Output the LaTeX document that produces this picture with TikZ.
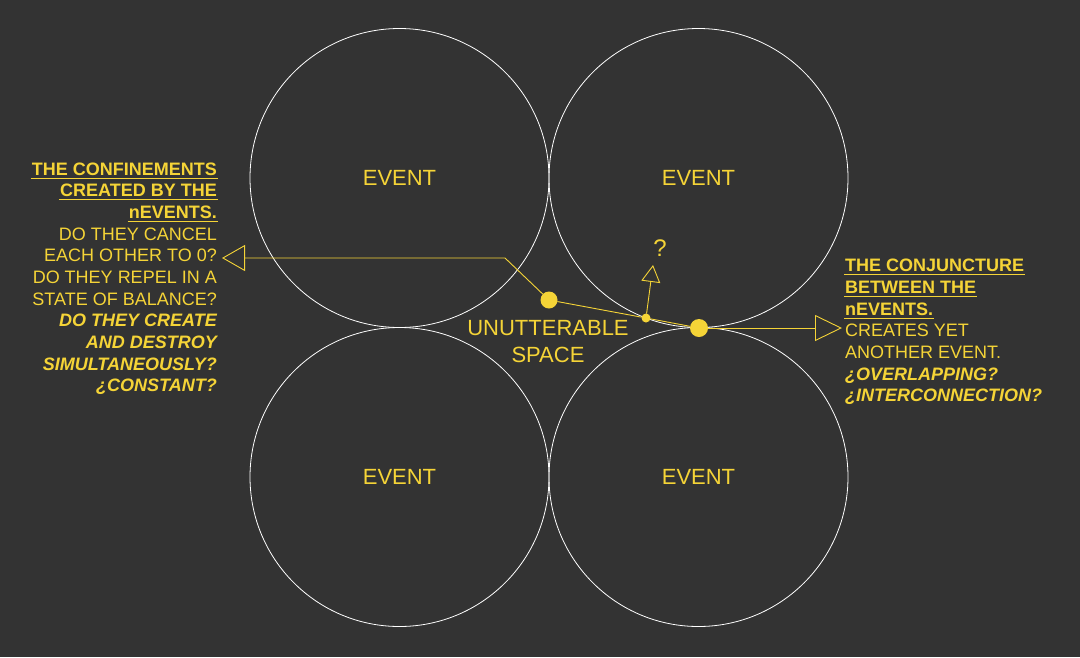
\documentclass[tikz,border=0pt]{standalone}
\usepackage{fontspec}
\setmainfont{Liberation Sans}
\usetikzlibrary{arrows.meta}
\definecolor{bg}{RGB}{51,51,51}
\definecolor{ylw}{RGB}{245,212,55}
\begin{document}
\begin{tikzpicture}[x=1pt,y=-1pt,
  ev/.style={circle,draw=white,line width=0.8pt,minimum size=299pt,inner sep=0pt,outer sep=0pt,
    text=ylw,font=\fontsize{22}{26}\selectfont},
  lbl/.style={text=ylw,font=\fontsize{22}{26}\selectfont,inner sep=0pt},
  dot/.style={circle,fill=ylw,inner sep=0pt,outer sep=0pt},
  lead/.style={draw=ylw,line width=0.9pt},
  ltxt/.style={text=ylw,font=\fontsize{18}{21}\selectfont,anchor=base east,inner sep=0pt},
  rtxt/.style={text=ylw,font=\fontsize{18}{21}\selectfont,anchor=base west,inner sep=0pt},
  hd/.style={font=\fontsize{18}{21}\selectfont\bfseries},
  qq/.style={font=\fontsize{18}{21}\selectfont\bfseries\itshape},
  ul/.style={draw=ylw,line width=0.9pt}]
\useasboundingbox (0,0) rectangle (1080,657);
\fill[bg] (0,0) rectangle (1080,657);

% circles
\node[ev] (e1) at (399.5,178) {EVENT};
\node[ev] (e2) at (698.5,178) {EVENT};
\node[ev] (e3) at (399.5,477) {EVENT};
\node[ev] (e4) at (698.5,477) {EVENT};

% centre label
\node[lbl] (u1) at (548,328) {UNUTTERABLE};
\node[lbl] (u2) at (548,355) {SPACE};

% dots
\node[dot,minimum size=17pt] (d1) at (549,300) {};
\node[dot,minimum size=9pt] (d2) at (646,318) {};
\node[dot,minimum size=18pt] (d3) at (699,328) {};

% leaders
\coordinate (bendL) at (505,258);
\coordinate (tipL) at (222,258);
\coordinate (tipQ) at (653,265);
\coordinate (tipR) at (842,328);
\draw[lead] (d1) -- (d2) -- (d3);
\draw[lead,-{Triangle[open,length=23pt,width=26pt]}] (d1) -- (bendL) -- (tipL);
\draw[lead,-{Triangle[open,length=17pt,width=19pt]}] (d2) -- (tipQ);
\draw[lead,-{Triangle[open,length=27pt,width=26pt]}] (d3) -- (tipR);
\node[lbl,font=\fontsize{24}{28}\selectfont] (qm) at (660,248) {?};

% left text
\node[ltxt,hd] (l1) at (217,175) {THE CONFINEMENTS};
\node[ltxt,hd] (l2) at (217,196.7) {CREATED BY THE};
\node[ltxt,hd] (l3) at (217,218.3) {nEVENTS.};
\node[ltxt] (l4) at (217,240) {DO THEY CANCEL};
\node[ltxt] (l5) at (217,261.7) {EACH OTHER TO 0?};
\node[ltxt] (l6) at (217,283.3) {DO THEY REPEL IN A};
\node[ltxt] (l7) at (217,305) {STATE OF BALANCE?};
\node[ltxt,qq] (l8) at (217,326.7) {DO THEY CREATE};
\node[ltxt,qq] (l9) at (217,348.3) {AND DESTROY};
\node[ltxt,qq] (l10) at (217,370) {SIMULTANEOUSLY?};
\node[ltxt,qq] (l11) at (217,391.7) {¿CONSTANT?};
\foreach \n in {l1,l2,l3}{
  \draw[ul] ([xshift=-1pt,yshift=-3pt]\n.base west) -- ([xshift=1pt,yshift=-3pt]\n.base east);
}

% right text
\node[rtxt,hd] (r1) at (845,271.7) {THE CONJUNCTURE};
\node[rtxt,hd] (r2) at (845,293.3) {BETWEEN THE};
\node[rtxt,hd] (r3) at (845,315) {nEVENTS.};
\node[rtxt] (r4) at (845,336.7) {CREATES YET};
\node[rtxt] (r5) at (845,358.3) {ANOTHER EVENT.};
\node[rtxt,qq] (r6) at (845,380) {¿OVERLAPPING?};
\node[rtxt,qq] (r7) at (845,401.7) {¿INTERCONNECTION?};
\foreach \n in {r1,r2,r3}{
  \draw[ul] ([xshift=-1pt,yshift=-3pt]\n.base west) -- ([xshift=1pt,yshift=-3pt]\n.base east);
}
\end{tikzpicture}
\end{document}
